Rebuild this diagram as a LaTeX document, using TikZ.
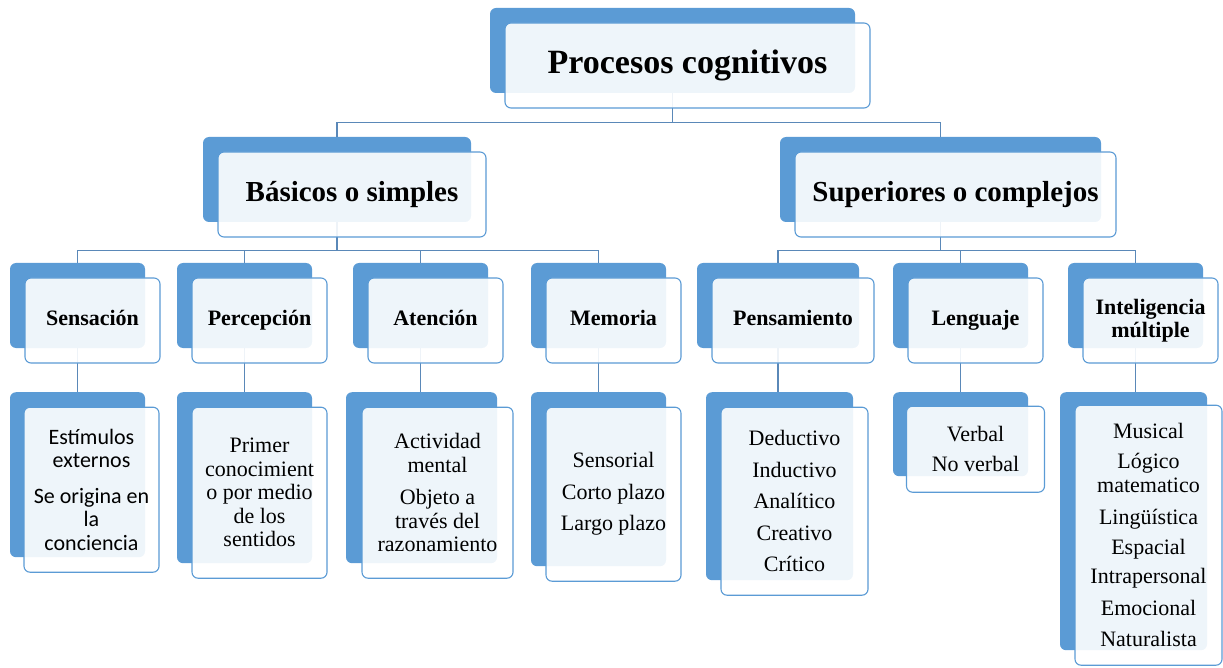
\documentclass[tikz,border=0pt]{standalone}
\usepackage{fontspec}
\setmainfont{Liberation Serif}
\newfontfamily\calib{Carlito}
\definecolor{boxblue}{HTML}{5B9BD5}
\definecolor{linkblue}{HTML}{5A88B8}
\tikzset{
  back/.style={fill=boxblue, rounded corners=6pt, inner sep=0pt},
  front/.style={draw=boxblue, line width=1.1pt, fill=white, fill opacity=0.9, text opacity=1,
    rounded corners=6pt, inner sep=0pt, align=center},
  link/.style={draw=linkblue, line width=1.3pt},
  topfont/.style={font=\fontsize{34}{40}\selectfont\bfseries},
  midfont/.style={font=\fontsize{29}{34}\selectfont\bfseries},
  lowfont/.style={font=\fontsize{22}{23.5}\selectfont\bfseries},
  subfont/.style={font=\fontsize{22}{23.5}\selectfont},
  calfont/.style={font=\calib\fontsize{22}{23.5}\selectfont}
}
\begin{document}
\begin{tikzpicture}[x=1pt, y=-1pt]
\useasboundingbox (0,0) rectangle (1223,668);
% back boxes
\node[back, minimum width=365pt, minimum height=85pt] (proc) at (672.5,50.5) {};
\node[back, minimum width=268pt, minimum height=85pt] (bas) at (337,179.5) {};
\node[back, minimum width=321pt, minimum height=85pt] (sup) at (940.5,179.5) {};
\foreach \n/\x/\w in {sens/77.5/135, perc/244.5/135, aten/420.5/135, memo/598.5/135,
  pens/778/162, leng/960.5/135, inte/1135.5/135}
  \node[back, minimum width=\w pt, minimum height=85pt] (\n) at (\x,305.5) {};
\foreach \n/\x/\w/\h in {sens/77.5/135/165, perc/244.5/135/171, aten/421.5/151/171,
  memo/598.5/135/174, pens/779.5/147/188, leng/960.5/135/84, inte/1133.5/147/258}
  \node[back, minimum width=\w pt, minimum height=\h pt, anchor=north] (\n-s) at (\x,392) {};

% connectors
\draw[link] (proc.south) -- ++(0,29) coordinate (t1);
\draw[link] (t1) -| (bas.north);
\draw[link] (t1) -| (sup.north);
\draw[link] (bas.south) -- ++(0,28) coordinate (b1);
\draw[link] (sup.south) -- ++(0,28) coordinate (s1);
\foreach \c in {sens,perc,aten,memo}
  \draw[link] (b1) -| (\c.north);
\foreach \c in {pens,leng,inte}
  \draw[link] (s1) -| (\c.north);
\foreach \c in {sens,perc,aten,memo,pens,leng,inte}
  \draw[link] (\c.south) -- (\c.south |- \c-s.north);

% front boxes
\node[front, topfont, minimum width=365pt, minimum height=85pt] (proc-f) at ([shift={(15,15)}]proc.center) {Procesos cognitivos};
\node[front, midfont, minimum width=268pt, minimum height=85pt] (bas-f) at ([shift={(15,15)}]bas.center) {Básicos o simples};
\node[front, midfont, minimum width=321pt, minimum height=85pt] (sup-f) at ([shift={(15,15)}]sup.center) {Superiores o complejos};
\foreach \n/\w/\t in {sens/135/Sensación, perc/135/Percepción, aten/135/Atención, memo/135/Memoria,
  pens/162/Pensamiento, leng/135/Lenguaje}
  \node[front, lowfont, text height=15pt, text depth=5pt, minimum width=\w pt, minimum height=85pt] (\n-f) at ([shift={(15,15)}]\n.center) {\t};
\node[front, lowfont, minimum width=135pt, minimum height=85pt] (inte-f) at ([shift={(15,15)}]inte.center) {Inteligencia\\múltiple};
\node[front, calfont, minimum width=135pt, minimum height=165pt] (sens-sf) at ([shift={(14,15)}]sens-s.center)
  {Estímulos\\externos\\[12pt]Se origina en\\la\\conciencia};
\node[front, subfont, minimum width=135pt, minimum height=171pt] (perc-sf) at ([shift={(15,15)}]perc-s.center)
  {Primer\\conocimient\\o por medio\\de los\\sentidos};
\node[front, subfont, minimum width=151pt, minimum height=171pt] (aten-sf) at ([shift={(16,15)}]aten-s.center)
  {Actividad\\mental\\[9pt]Objeto a\\través del\\razonamiento};
\node[front, subfont, minimum width=135pt, minimum height=174pt] (memo-sf) at ([shift={(15,15)}]memo-s.center)
  {Sensorial\\[8pt]Corto plazo\\[8pt]Largo plazo};
\node[front, subfont, minimum width=147pt, minimum height=188pt] (pens-sf) at ([shift={(15,15)}]pens-s.center)
  {Deductivo\\[8pt]Inductivo\\[8pt]Analítico\\[8pt]Creativo\\[8pt]Crítico};
\node[front, subfont, minimum width=138pt, minimum height=86pt] (leng-sf) at ([shift={(15,15)}]leng-s.center)
  {Verbal\\[6pt]No verbal};
\node[front, subfont, minimum width=147pt, minimum height=260pt] (inte-sf) at ([shift={(15,14)}]inte-s.center)
  {Musical\\[7pt]Lógico\\matematico\\[9pt]Lingüística\\[6pt]Espacial\\[6pt]Intrapersonal\\[8pt]Emocional\\[8pt]Naturalista};
\end{tikzpicture}
\end{document}
